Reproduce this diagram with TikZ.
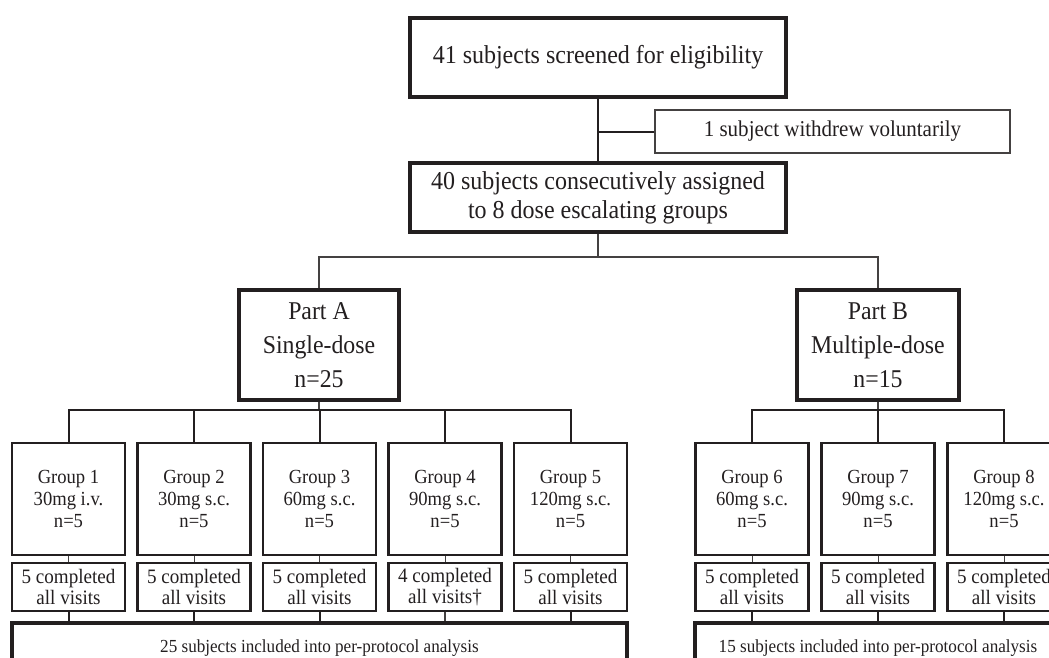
\documentclass[tikz,border=0pt]{standalone}
\usepackage{fontspec}
\setmainfont{Liberation Serif}[FakeStretch=0.93]
\definecolor{ink}{HTML}{231F20}
\begin{document}
\begin{tikzpicture}[x=1pt,y=-1pt,
  every node/.style={text=ink},
  bigbox/.style={draw=ink, line width=3.2pt, align=center, inner sep=0pt, fill=white},
  thinbox/.style={draw=ink!85, line width=1.5pt, align=center, inner sep=0pt, fill=white},
  grpbox/.style={draw=ink, line width=2.8pt, align=center, inner sep=0pt, fill=white,
                 minimum width=113pt, minimum height=112pt,
                 font=\fontsize{20}{22}\selectfont},
  donebox/.style={draw=ink, line width=2.8pt, align=center, inner sep=0pt, fill=white,
                 minimum width=113pt, minimum height=48pt,
                 font=\fontsize{20.5}{21}\selectfont},
  conn/.style={draw=ink, line width=2pt},
  thinconn/.style={draw=ink!85, line width=1.2pt}]
\path[use as bounding box] (0,0) rectangle (1049,657);
\clip (0,0) rectangle (1049,657);

% top part
\node[bigbox, minimum width=376pt, minimum height=79pt,
      font=\fontsize{25.8}{29}\selectfont] (top) at (598,57.5) {41 subjects screened for eligibility};
\node[thinbox, minimum width=355pt, minimum height=43pt,
      font=\fontsize{22.6}{25}\selectfont] (wd) at (832.5,131.5) {1 subject withdrew voluntarily};
\node[bigbox, minimum width=376pt, minimum height=69pt,
      font=\fontsize{25.8}{29}\selectfont] (asg) at (598,197.5) {40 subjects consecutively assigned\\to 8 dose escalating groups};

\draw[conn] (top.south) -- (asg.north);
\draw[conn] (wd.west) -- (wd.west -| top.south);

% parts
\node[bigbox, minimum width=160pt, minimum height=110pt,
      font=\fontsize{25.6}{34}\selectfont] (pa) at (319,345) {Part A\\Single-dose\\n=25};
\node[bigbox, minimum width=162pt, minimum height=110pt,
      font=\fontsize{25.6}{34}\selectfont] (pb) at (878,345) {Part B\\Multiple-dose\\n=15};

\coordinate (hj) at (598,257);
\draw[thinconn] (asg.south) -- (hj);
\draw[thinconn] (pa.north) |- (hj) -| (pb.north);

% groups part A
\node[grpbox] (g1) at (68.5,499)  {Group 1\\30mg i.v.\\n=5};
\node[grpbox] (g2) at (194,499)   {Group 2\\30mg s.c.\\n=5};
\node[grpbox] (g3) at (319.5,499) {Group 3\\60mg s.c.\\n=5};
\node[grpbox] (g4) at (445,499)   {Group 4\\90mg s.c.\\n=5};
\node[grpbox] (g5) at (570.5,499) {Group 5\\120mg s.c.\\n=5};
% groups part B
\node[grpbox] (g6) at (752,499)   {Group 6\\60mg s.c.\\n=5};
\node[grpbox] (g7) at (878,499)   {Group 7\\90mg s.c.\\n=5};
\node[grpbox] (g8) at (1004,499)  {Group 8\\120mg s.c.\\n=5};

\coordinate (ha) at (319,410);
\coordinate (hb) at (878,410);
\draw[thinconn] (pa.south) -- (ha);
\draw[thinconn] (pb.south) -- (hb);
\draw[conn] (g1.north) |- (ha) -| (g5.north);
\draw[conn] (g2.north) -- (g2.north |- ha);
\draw[conn] (g3.north) -- (g3.north |- ha);
\draw[conn] (g4.north) -- (g4.north |- ha);
\draw[conn, line width=2.4pt] (g6.north) |- (hb) -| (g8.north);
\draw[conn, line width=2.4pt] (g7.north) -- (hb);

% completed boxes
\node[donebox] (c1) at (68.5,587)  {5 completed\\all visits};
\node[donebox] (c2) at (194,587)   {5 completed\\all visits};
\node[donebox] (c3) at (319.5,587) {5 completed\\all visits};
\node[donebox] (c4) at (445,587)   {4 completed\\all visits\textdagger};
\node[donebox] (c5) at (570.5,587) {5 completed\\all visits};
\node[donebox] (c6) at (752,587)   {5 completed\\all visits};
\node[donebox] (c7) at (878,587)   {5 completed\\all visits};
\node[donebox] (c8) at (1004,587)  {5 completed\\all visits};

\foreach \i in {1,...,8} {
  \draw[thinconn, line width=1pt] (g\i.south) -- (c\i.north);
}

% per-protocol boxes
\node[bigbox, minimum width=615pt, minimum height=50pt,
      font=\fontsize{18.4}{20}\selectfont] (ppa) at (319.5,648) {25 subjects included into per-protocol analysis};
\node[bigbox, minimum width=366pt, minimum height=50pt,
      font=\fontsize{18.4}{20}\selectfont] (ppb) at (878,648) {15 subjects included into per-protocol analysis};

\foreach \i in {1,2,3,5} {
  \draw[conn] (c\i.south) -- (c\i.south |- ppa.north);
}
\draw[thinconn] (c4.south) -- (c4.south |- ppa.north);
\foreach \i in {6,7,8} {
  \draw[conn] (c\i.south) -- (c\i.south |- ppb.north);
}
\end{tikzpicture}
\end{document}
